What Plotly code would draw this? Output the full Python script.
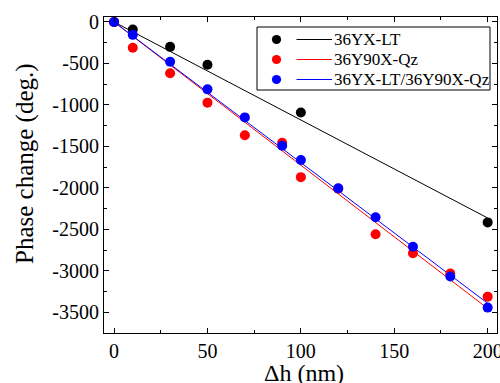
import plotly.graph_objects as go

# ---- data ----
dh_lt = [0, 10, 30, 50, 100, 200]
phase_lt = [0, -90, -300, -515, -1090, -2415]

dh_qz = [0, 10, 30, 50, 70, 90, 100, 120, 140, 160, 180, 200]
phase_qz = [0, -310, -618, -972, -1365, -1455, -1870, -2010, -2558, -2787, -3030, -3310]

dh_comb = [0, 10, 30, 50, 70, 90, 100, 120, 140, 160, 180, 200]
phase_comb = [0, -155, -480, -812, -1150, -1492, -1663, -2005, -2353, -2708, -3068, -3442]

fit_x = [0, 200]
fit_lt = [0, -2362]
fit_qz = [0, -3452]
fit_comb = [0, -3390]

names = ["36YX-LT", "36Y90X-Qz", "36YX-LT/36Y90X-Qz"]
colors = ["#000000", "#ff0000", "#0000ff"]

# ---- layout geometry (pixels) ----
W, H = 500, 383
L, R, T, B = 104, 497, 17, 333
pw, ph = R - L, B - T


def px(x):
    return (x - L) / pw


def py(y):
    return (B - y) / ph


fig = go.Figure()

series = [(dh_lt, phase_lt, fit_lt), (dh_qz, phase_qz, fit_qz), (dh_comb, phase_comb, fit_comb)]
for (xs, ys, fy), c, n in zip(series, colors, names):
    fig.add_trace(go.Scatter(x=fit_x, y=fy, mode="lines", line=dict(color=c, width=1),
                             showlegend=False, hoverinfo="skip"))
for (xs, ys, fy), c, n in zip(series, colors, names):
    fig.add_trace(go.Scatter(x=xs, y=ys, mode="markers", name=n,
                             marker=dict(color=c, size=10, line=dict(width=0)),
                             showlegend=False))

font_family = "Liberation Serif"

shapes = []
annotations = []
# legend box
shapes.append(dict(type="rect", xref="paper", yref="paper",
                   x0=px(257), x1=px(490), y0=py(90), y1=py(27),
                   line=dict(color="black", width=1), fillcolor="white", layer="above"))
rows = [39.5, 59.5, 79.5]
r = 4.6
for yy, c, n in zip(rows, colors, names):
    shapes.append(dict(type="circle", xref="paper", yref="paper",
                       x0=px(276.5 - r), x1=px(276.5 + r), y0=py(yy + r), y1=py(yy - r),
                       fillcolor=c, line=dict(width=0), layer="above"))
    shapes.append(dict(type="line", xref="paper", yref="paper",
                       x0=px(296.5), x1=px(332), y0=py(yy), y1=py(yy),
                       line=dict(color=c, width=1), layer="above"))
    annotations.append(dict(text=n, xref="paper", yref="paper", x=px(332), y=py(yy),
                            xanchor="left", yanchor="middle", showarrow=False,
                            font=dict(family=font_family, size=17, color="black")))

annotations.append(dict(text="Phase change (deg.)", xref="paper", yref="paper",
                        x=px(25), y=py(164), xanchor="center", yanchor="middle",
                        textangle=-90, showarrow=False,
                        font=dict(family=font_family, size=25, color="black")))
annotations.append(dict(text="Δh (nm)", xref="paper", yref="paper",
                        x=px(304), y=py(373), xanchor="center", yanchor="middle",
                        showarrow=False,
                        font=dict(family=font_family, size=24, color="black")))

axis_common = dict(showgrid=False, zeroline=False, showline=True, linecolor="black",
                   linewidth=1, mirror="ticks", ticks="inside", tickcolor="black",
                   ticklen=5, tickwidth=1, ticklabeloverflow="allow", automargin=False,
                   tickfont=dict(family=font_family, size=20, color="black"))

fig.update_layout(
    width=W, height=H,
    margin=dict(l=L, r=W - R, t=T, b=H - B),
    plot_bgcolor="white", paper_bgcolor="white",
    shapes=shapes, annotations=annotations,
    xaxis=dict(range=[-5.4, 205], tickvals=[0, 50, 100, 150, 200],
               minor=dict(ticks="inside", ticklen=3, dtick=25, tick0=0, tickcolor="black"),
               **axis_common),
    yaxis=dict(range=[-3748, 60], tickvals=[0, -500, -1000, -1500, -2000, -2500, -3000, -3500],
               ticktext=["0", "-500", "-1000", "-1500", "-2000", "-2500", "-3000", "-3500"],
               minor=dict(ticks="inside", ticklen=3, dtick=250, tick0=0, tickcolor="black"),
               **axis_common),
    showlegend=False,
)

fig.write_html("out.html")
